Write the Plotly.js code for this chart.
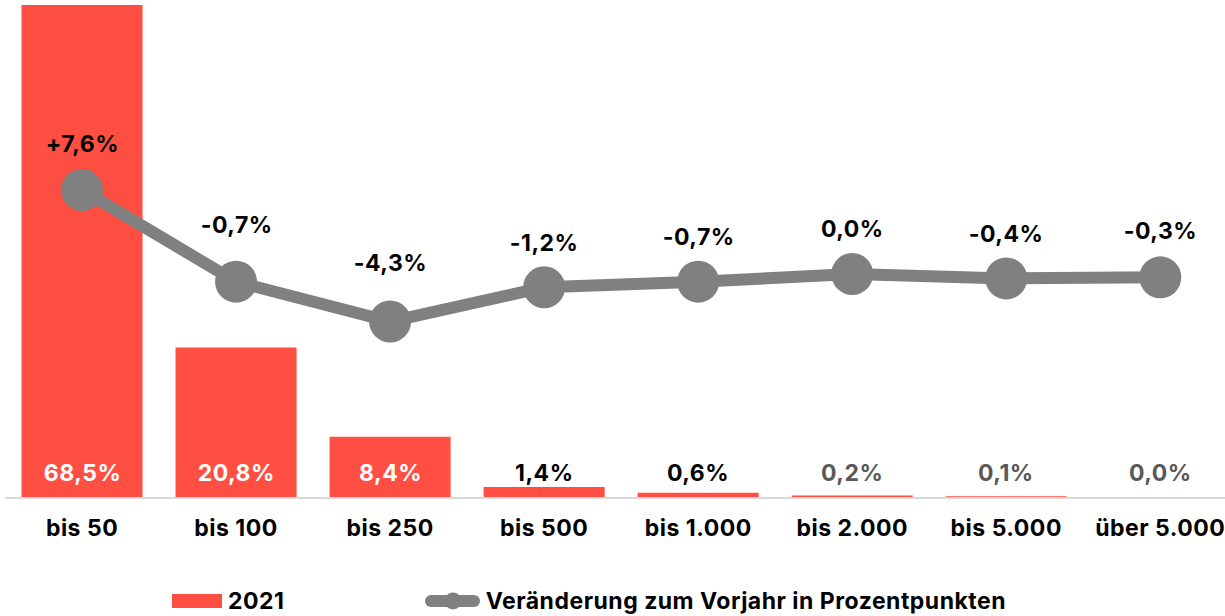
<!DOCTYPE html>
<html>
<head>
<meta charset="utf-8">
<script src="https://cdn.plot.ly/plotly-3.0.1.min.js"></script>
<style>html,body{margin:0;padding:0;background:#fff;}#chart{width:1225px;height:616px;}</style>
</head>
<body>
<div id="chart"></div>
<script>
// ---- data ----
const categories = ["bis 50", "bis 100", "bis 250", "bis 500", "bis 1.000", "bis 2.000", "bis 5.000", "über 5.000"];
const share2021 = [68.5, 20.8, 8.4, 1.4, 0.6, 0.2, 0.1, 0.0];
const changePP = [7.6, -0.7, -4.3, -1.2, -0.7, 0.0, -0.4, -0.3];
const seriesNames = ["2021", "Veränderung zum Vorjahr in Prozentpunkten"];

// ---- style ----
const RED = "#FF4F43";
const GREY = "#808080";
const FONT = "Inter";
const FS = 23;
const barLabelColors = ["#FFFFFF", "#FFFFFF", "#FFFFFF", "#000000", "#000000", "#595959", "#595959", "#595959"];
const lineLabelLift = [46, 57, 59, 44, 45, 45, 44, 46]; // px above each marker

const W = 1225, H = 616;
const M = {l: 5, r: 0, t: 5, b: 119};
const PW = W - M.l - M.r, PH = H - M.t - M.b;
const px = x => (x - M.l) / PW;
const py = y => (H - M.b - y) / PH;

const fmt = (v, sign) => {
  let s = v.toFixed(1).replace('.', ',') + '%';
  if (sign && v > 0) s = '+' + s;
  return s;
};

const traces = [
  {
    type: 'bar', x: categories, y: share2021, name: seriesNames[0],
    marker: {color: RED}, hoverinfo: 'skip', showlegend: false
  },
  {
    type: 'scatter', mode: 'lines+markers', x: categories, y: changePP, yaxis: 'y2',
    name: seriesNames[1], line: {color: GREY, width: 12},
    marker: {color: GREY, size: 42}, hoverinfo: 'skip', showlegend: false
  }
];

const annotations = [];
categories.forEach((c, i) => {
  annotations.push({
    x: c, y: 0, xref: 'x', yref: 'y', yanchor: 'middle', yshift: 24,
    text: fmt(share2021[i], false), showarrow: false,
    font: {family: FONT, size: FS, weight: 700, color: barLabelColors[i]}
  });
  annotations.push({
    x: c, y: changePP[i], xref: 'x', yref: 'y2', yanchor: 'middle', yshift: lineLabelLift[i],
    text: fmt(changePP[i], true), showarrow: false,
    font: {family: FONT, size: FS, weight: 700, color: '#000000'}
  });
});

// custom legend
const legY = 601;
annotations.push({
  xref: 'paper', yref: 'paper', x: px(227), y: py(legY), xanchor: 'left', yanchor: 'middle',
  text: seriesNames[0], showarrow: false,
  font: {family: FONT, size: FS, weight: 700, color: '#000'}
});
annotations.push({
  xref: 'paper', yref: 'paper', x: px(494), y: py(legY), xanchor: 'left', yanchor: 'middle',
  text: seriesNames[1], showarrow: false,
  font: {family: FONT, size: FS, weight: 700, color: '#000'}
});

const dot = (cx, cy, r) => ({type: 'circle', xref: 'paper', yref: 'paper',
  x0: px(cx - r), x1: px(cx + r), y0: py(cy + r), y1: py(cy - r), fillcolor: GREY, line: {width: 0}});

const shapes = [
  {type: 'rect', xref: 'paper', yref: 'paper', x0: px(172), x1: px(222), y0: py(legY + 7), y1: py(legY - 7),
   fillcolor: RED, line: {width: 0}},
  {type: 'line', xref: 'paper', yref: 'paper', x0: px(431), x1: px(474), y0: py(legY), y1: py(legY),
   line: {color: GREY, width: 12}},
  dot(431, legY, 6), dot(474, legY, 6), dot(453, legY, 8.5)
];

const layout = {
  width: W, height: H, margin: M,
  paper_bgcolor: '#fff', plot_bgcolor: '#fff',
  bargap: 0.214,
  showlegend: false,
  xaxis: {
    range: [-0.5, 7.42], showgrid: false, zeroline: false,
    showline: true, linecolor: '#D9D9D9', linewidth: 2,
    ticks: '', ticklabelstandoff: 9,
    tickfont: {family: FONT, size: FS, weight: 700, color: '#000'}
  },
  yaxis: {range: [0, 68.5], visible: false, showgrid: false, zeroline: false},
  yaxis2: {range: [-20.18, 24.34], overlaying: 'y', visible: false, showgrid: false, zeroline: false},
  annotations: annotations,
  shapes: shapes
};

Plotly.newPlot('chart', traces, layout, {staticPlot: true, displayModeBar: false}).then(gd => {
  gd.querySelectorAll('.annotation-text, .xtick text').forEach(t => {
    t.style.letterSpacing = '0.5px';
  });
});
</script>
</body>
</html>
